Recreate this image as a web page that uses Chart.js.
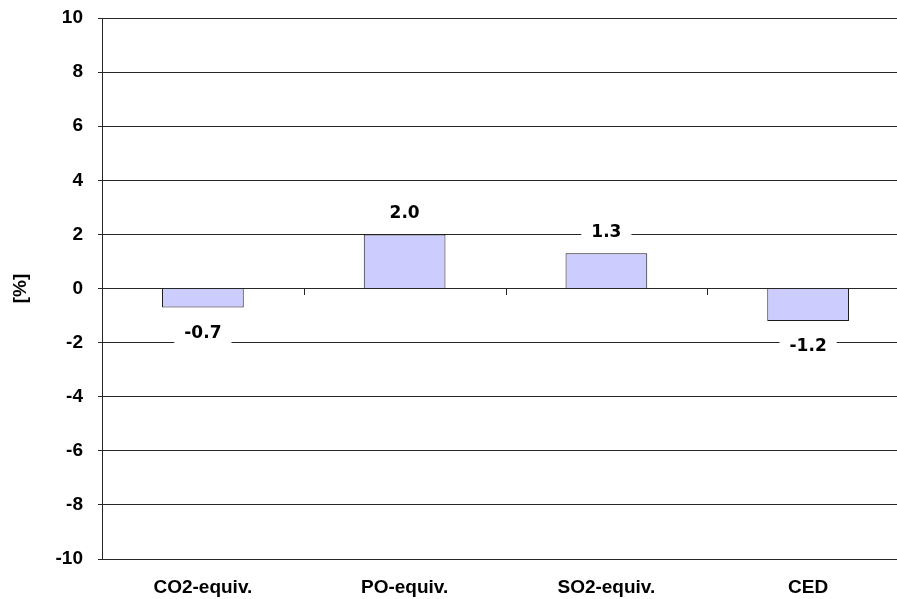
<!DOCTYPE html>
<html>
<head>
<meta charset="utf-8">
<script src="https://cdn.jsdelivr.net/npm/chart.js@4/dist/chart.umd.min.js"></script>
<style>
  html, body { margin: 0; padding: 0; background: #fff; overflow: hidden; }
  #wrap { width: 897px; height: 599px; overflow: hidden; }
  canvas { display: block; }
</style>
</head>
<body>
<div id="wrap"><canvas id="c" width="909" height="599"></canvas></div>
<script>
// Relative change per impact indicator, in percent
const categories = ['CO2-equiv.', 'PO-equiv.', 'SO2-equiv.', 'CED'];
const changes = [-0.7, 2.0, 1.3, -1.2];
const yTicks = { min: -10, max: 10, step: 2 };
const yTitle = '[%]';

const AXIS_FONT = { family: '"Liberation Sans", Arial, sans-serif', size: 19, weight: 'bold' };
const LABEL_FONT = 'bold 17px "DejaVu Sans", Verdana, sans-serif';
const LINE = '#262626';

// Value labels on white boxes, plus small tick marks on the zero line between categories
const extras = {
  id: 'extras',
  afterDatasetsDraw(chart) {
    const { ctx } = chart;
    const x = chart.scales.x, y = chart.scales.y;
    const y0 = y.getPixelForValue(0);
    ctx.save();
    ctx.strokeStyle = LINE;
    ctx.lineWidth = 1;
    for (let i = 0; i < categories.length - 1; i++) {
      const bx = Math.round((x.getPixelForValue(i) + x.getPixelForValue(i + 1)) / 2) + 0.5;
      ctx.beginPath();
      ctx.moveTo(bx, Math.round(y0));
      ctx.lineTo(bx, Math.round(y0) + 6);
      ctx.stroke();
    }
    ctx.font = LABEL_FONT;
    ctx.textAlign = 'center';
    ctx.textBaseline = 'middle';
    const meta = chart.getDatasetMeta(0);
    meta.data.forEach((bar, i) => {
      const v = changes[i];
      const txt = v.toFixed(1);
      const cy = bar.y + (v >= 0 ? -22 : 25);
      const w = ctx.measureText(txt).width + 20;
      ctx.fillStyle = '#fff';
      ctx.fillRect(bar.x - w / 2, cy - 11, w, 22);
      ctx.fillStyle = '#000';
      ctx.fillText(txt, bar.x, cy + 1);
    });
    ctx.restore();
  }
};

new Chart(document.getElementById('c'), {
  type: 'bar',
  data: {
    labels: categories,
    datasets: [{
      data: changes,
      backgroundColor: '#CCCCFF',
      borderColor: '#1a1a1a',
      borderWidth: 1,
      categoryPercentage: 1,
      barPercentage: 0.405
    }]
  },
  options: {
    responsive: false,
    animation: false,
    events: [],
    layout: { padding: { top: 18, right: 0, bottom: 0, left: 0 } },
    plugins: { legend: { display: false }, tooltip: { enabled: false } },
    scales: {
      x: {
        grid: { display: false, drawTicks: false },
        border: { display: true, color: LINE, width: 1 },
        ticks: { color: '#000', font: AXIS_FONT, padding: 17, maxRotation: 0 },
        afterFit(scale) { scale.height = 40; scale.paddingLeft = 0; scale.paddingRight = 0; }
      },
      y: {
        min: yTicks.min,
        max: yTicks.max,
        grid: { color: LINE, lineWidth: 1, tickLength: 4, drawTicks: true },
        border: { display: true, color: LINE, width: 1 },
        ticks: { stepSize: yTicks.step, color: '#000', font: AXIS_FONT, padding: 15 },
        title: { display: true, text: yTitle, color: '#000', font: AXIS_FONT, padding: { top: 9, bottom: 0 } },
        afterFit(scale) { scale.width = 102; scale.paddingTop = 0; scale.paddingBottom = 0; }
      }
    }
  },
  plugins: [extras]
});
</script>
</body>
</html>
